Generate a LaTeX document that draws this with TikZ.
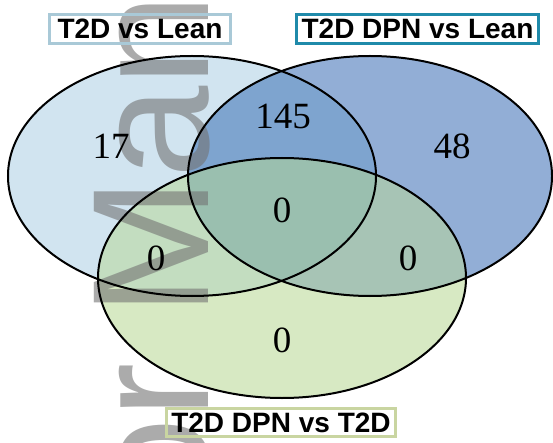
\documentclass[tikz,border=0pt]{standalone}
\usepackage{fontspec}
\setmainfont{Liberation Serif}
\setsansfont{Liberation Sans}
\usetikzlibrary{positioning}

\definecolor{leanOnly}{HTML}{D1E4F0}
\definecolor{dpnOnly}{HTML}{92AED6}
\definecolor{dpnT2dOnly}{HTML}{D7E9C3}
\definecolor{leanDpn}{HTML}{7EA4CF}
\definecolor{leanT2d}{HTML}{C3DDC0}
\definecolor{dpnT2d}{HTML}{A7C4B5}
\definecolor{allThree}{HTML}{9ABFAF}
\definecolor{leanEdge}{HTML}{A9C9D7}
\definecolor{dpnEdge}{HTML}{1F8AAA}
\definecolor{t2dEdge}{HTML}{C9D5A1}

\begin{document}
\begin{tikzpicture}[x=1pt,y=-1pt,
    count/.style={font=\fontsize{37}{40}\selectfont},
    setname/.style={draw,line width=3pt,inner sep=0pt,minimum height=29pt,
      font=\sffamily\bfseries\fontsize{28}{30}\selectfont}]
  \useasboundingbox (0,0) rectangle (553,443);
  \def\setLean{(192,176) ellipse [x radius=184,y radius=120]}
  \def\setDpn{(370,176) ellipse [x radius=182,y radius=120]}
  \def\setT2d{(282,278) ellipse [x radius=184,y radius=120]}
  % region fills
  \fill[leanOnly] \setLean;
  \fill[dpnOnly] \setDpn;
  \fill[dpnT2dOnly] \setT2d;
  \begin{scope} \clip \setLean; \fill[leanDpn] \setDpn; \end{scope}
  \begin{scope} \clip \setLean; \fill[leanT2d] \setT2d; \end{scope}
  \begin{scope} \clip \setDpn; \fill[dpnT2d] \setT2d; \end{scope}
  \begin{scope} \clip \setLean; \clip \setDpn; \fill[allThree] \setT2d; \end{scope}
  % watermark
  \begin{scope}
    \clip (0,0) rectangle (553,443);
    \node[rotate=90,anchor=base west,inner sep=0pt,text=black!55,opacity=0.6,
      font=\sffamily\fontsize{166}{170}\selectfont] (mark) at (208,852) {Author Manuscript};
  \end{scope}
  % outlines
  \draw[line width=2pt] \setLean;
  \draw[line width=2pt] \setDpn;
  \draw[line width=2pt] \setT2d;
  % set names
  \node[setname,draw=leanEdge,minimum width=181pt] (leanName) at (140,29) {T2D vs Lean};
  \node[setname,draw=dpnEdge,minimum width=242pt] (dpnName) at (417.5,29) {T2D DPN vs Lean};
  \node[setname,draw=t2dEdge,minimum width=229pt,minimum height=28pt] (t2dName) at (281,422.5) {T2D DPN vs T2D};
  % counts
  \node[count] (onlyLean) at (111,146) {17};
  \node[count] (leanDpnCount) at (283,116) {145};
  \node[count] (onlyDpn) at (452,146) {48};
  \node[count] (allCount) at (282,210) {0};
  \node[count] (leanT2dCount) at (156,258) {0};
  \node[count] (dpnT2dCount) at (408,258) {0};
  \node[count] (onlyT2d) at (282,340) {0};
\end{tikzpicture}
\end{document}
